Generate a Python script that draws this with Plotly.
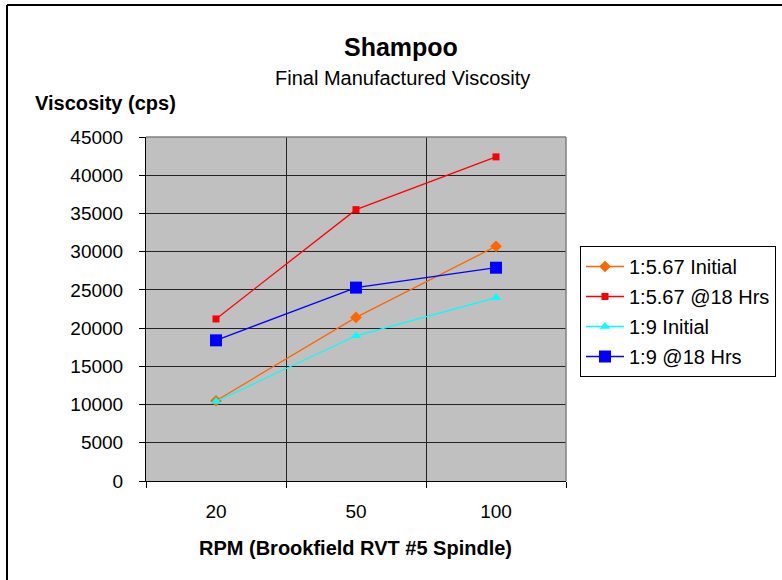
import plotly.graph_objects as go

categories = ["20", "50", "100"]
series_names = ["1:5.67 Initial", "1:5.67 @18 Hrs", "1:9 Initial", "1:9 @18 Hrs"]
v_567_initial = [10500, 21400, 30700]
v_567_18h = [21200, 35500, 42400]
v_19_initial = [10400, 19000, 24000]
v_19_18h = [18400, 25300, 27900]
y_ticks = [0, 5000, 10000, 15000, 20000, 25000, 30000, 35000, 40000, 45000]

FONT = "Liberation Sans, Arial, sans-serif"

styles = [
    dict(color="#FF6600", symbol="diamond", size=9),
    dict(color="#FF0000", symbol="square", size=7),
    dict(color="#00FFFF", symbol="triangle-up", size=9),
    dict(color="#0000FF", symbol="square", size=12),
]
values = [v_567_initial, v_567_18h, v_19_initial, v_19_18h]

fig = go.Figure()
for name, vals, st in zip(series_names, values, styles):
    fig.add_trace(go.Scatter(
        x=categories, y=vals, name=name, mode="lines+markers", legendgroup=name,
        line=dict(color=st["color"], width=1.3),
        marker=dict(color=st["color"], symbol=st["symbol"], size=st["size"], line=dict(width=0)),
    ))

L, R, T, B = 146, 216, 137, 99
W, H = 782, 580
pw, ph = W - L - R, H - T - B

def px_x(p):
    return (p - L) / pw

def px_y(p):
    return (H - B - p) / ph

fig.update_layout(
    width=W, height=H,
    margin=dict(l=L, r=R, t=T, b=B, autoexpand=False),
    paper_bgcolor="white",
    plot_bgcolor="#C0C0C0",
    font=dict(family=FONT, size=19, color="black"),
    showlegend=True,
    legend=dict(
        x=px_x(580), y=px_y(246), xanchor="left", yanchor="top",
        bgcolor="white", bordercolor="black", borderwidth=1,
        font=dict(family=FONT, size=20, color="black"),
        itemwidth=38, tracegroupgap=1, traceorder="grouped",
    ),
    xaxis=dict(
        type="category", categoryorder="array", categoryarray=categories,
        range=[-0.5, 2.5], tickson="boundaries",
        showgrid=True, gridcolor="#222222", gridwidth=1,
        showline=True, linecolor="black", linewidth=1,
        ticks="outside", ticklen=6, tickcolor="black",
        tickfont=dict(family=FONT, size=19), ticklabelstandoff=13,
        mirror=False, zeroline=False,
    ),
    yaxis=dict(
        range=[0, 45000], tickvals=y_ticks, tickformat="d",
        showgrid=True, gridcolor="#222222", gridwidth=1,
        showline=True, linecolor="black", linewidth=1,
        ticks="outside", ticklen=6, tickcolor="black",
        tickfont=dict(family=FONT, size=19), ticklabelstandoff=12,
        zeroline=False,
    ),
    shapes=[
        dict(type="line", xref="paper", yref="paper",
             x0=px_x(7), x1=px_x(782), y0=px_y(5), y1=px_y(5),
             line=dict(color="black", width=2), layer="below"),
        dict(type="line", xref="paper", yref="paper",
             x0=px_x(7), x1=px_x(7), y0=px_y(5), y1=px_y(580),
             line=dict(color="black", width=2), layer="below"),
        dict(type="line", xref="paper", yref="paper", x0=0, x1=1, y0=1, y1=1,
             line=dict(color="#808080", width=1.5)),
        dict(type="line", xref="paper", yref="paper", x0=1, x1=1, y0=0, y1=1,
             line=dict(color="#808080", width=1.5)),
    ],
    annotations=[
        dict(text="<b>Shampoo</b>", xref="paper", yref="paper", x=px_x(401), y=px_y(47),
             xanchor="center", yanchor="middle", showarrow=False,
             font=dict(family=FONT, size=25)),
        dict(text="Final Manufactured Viscosity", xref="paper", yref="paper", x=px_x(402), y=px_y(78),
             xanchor="center", yanchor="middle", showarrow=False,
             font=dict(family=FONT, size=20)),
        dict(text="<b>Viscosity (cps)</b>", xref="paper", yref="paper", x=px_x(33), y=px_y(103),
             xanchor="left", yanchor="middle", showarrow=False,
             font=dict(family=FONT, size=20)),
        dict(text="<b>RPM (Brookfield RVT #5 Spindle)</b>", xref="paper", yref="paper", x=px_x(355), y=px_y(548),
             xanchor="center", yanchor="middle", showarrow=False,
             font=dict(family=FONT, size=20)),
    ],
)

fig.write_html("out.html", config={"displayModeBar": False},
               post_script="document.body.style.margin='0px';")
